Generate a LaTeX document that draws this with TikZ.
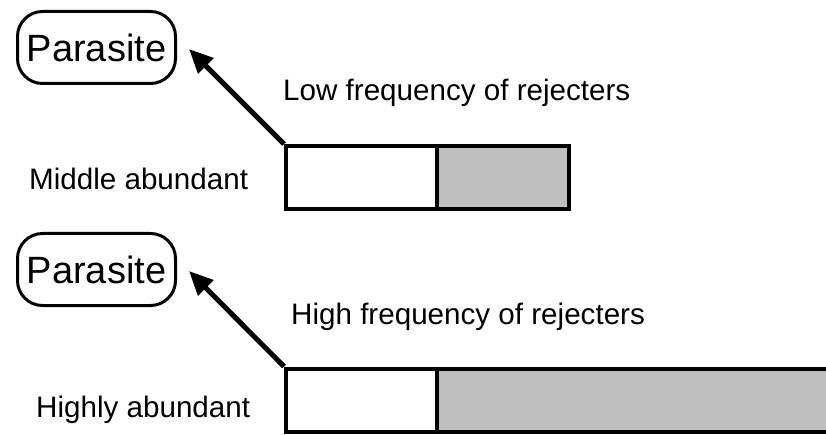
\documentclass[tikz,border=0pt]{standalone}
\usepackage{fontspec}
\setmainfont{Liberation Sans}
\usetikzlibrary{positioning, arrows.meta}
\definecolor{barfill}{RGB}{191,191,191}

\begin{document}
\begin{tikzpicture}[x=1pt, y=-1pt]

	\tikzstyle{host}=[rectangle, draw, line width=3pt, rounded corners=25pt, minimum width=158pt, minimum height=72pt, inner sep=0pt, font=\fontsize{38}{42}\selectfont]
	\tikzstyle{cell}=[rectangle, draw, line width=4pt, minimum height=63pt, inner sep=0pt]
	\tikzstyle{lab}=[anchor=base west, inner sep=0pt, font=\fontsize{29.6}{34}\selectfont]
	\tikzstyle{arc}=[-{Triangle[length=24pt,width=21pt]}, line width=5pt, black]

	\useasboundingbox (0,0) rectangle (826,435);

	% placement des noeuds
	\node[host] 	(para1) at (96.5,47.5) 	{Parasite};
	\node[lab] 	(low) at (283,101) 	{Low frequency of rejecters};
	\node[lab] 	(mid) at (29,190) 	{Middle abundant};
	\node[cell, minimum width=151pt] 	(w1) at (361.5,177.5) 	{};
	\node[cell, minimum width=132pt, fill=barfill] 	(g1) at (503,177.5) 	{};
	\coordinate (tip1) at (189,49);
	\draw[arc] (w1.north west) -- (tip1) ;

	\node[host] 	(para2) at (96.5,269.5) 	{Parasite};
	\node[lab] 	(high) at (291,324) 	{High frequency of rejecters};
	\node[lab] 	(hab) at (36,417) 	{Highly abundant};
	\node[cell, minimum width=151pt] 	(w2) at (361.5,400) 	{};
	\node[cell, minimum width=408pt, fill=barfill] 	(g2) at (641,400) 	{};
	\coordinate (tip2) at (189,271);
	\draw[arc] (w2.north west) -- (tip2) ;

\end{tikzpicture}
\end{document}
